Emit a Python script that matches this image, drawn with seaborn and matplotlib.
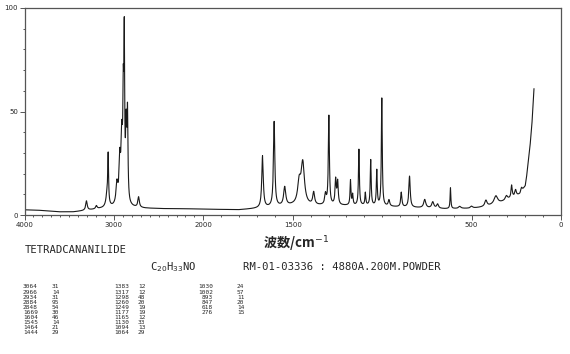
import numpy as np
import pandas as pd
import matplotlib
matplotlib.use("Agg")
import matplotlib.pyplot as plt
import seaborn as sns

# ---------------- data ----------------
# Peak table printed under the chart (wavenumber, relative intensity)
table_cm = [3064, 2966, 2934, 2884, 2848, 1669, 1604, 1545, 1464, 1444,
            1383, 1317, 1298, 1260, 1249, 1177, 1165, 1130, 1094, 1064,
            1030, 1002, 893, 847, 618, 276]
table_int = [31, 14, 31, 95, 54, 30, 46, 14, 21, 29,
             12, 12, 48, 20, 19, 19, 12, 33, 13, 29,
             24, 57, 11, 20, 14, 15]

# Band positions / amplitudes above baseline / widths (cm-1)
band_cm = [3307, 3196, 3075, 3064, 2966, 2934, 2912, 2895, 2884, 2863, 2848, 2724,
           1669, 1604, 1545, 1464, 1444, 1383, 1317, 1298, 1260, 1249,
           1177, 1165, 1130, 1094, 1064, 1030, 1002, 962, 893, 847,
           762, 717, 690, 618, 566, 500, 420, 364, 305, 276, 254, 221]
band_amp = [4.5, 1.5, 7, 22, 10, 20, 30, 45, 72, 35, 40, 5,
            25, 41, 9, 10, 20, 6, 5, 43, 12, 11,
            12, 5, 27, 6, 22, 17, 52, 3, 7, 15,
            4, 3, 2, 10, 1, 1, 3, 4, 2, 6, 3, 2]
band_wid = [20, 20, 30, 10, 25, 20, 20, 12, 10, 16, 12, 20,
            10, 9, 14, 20, 22, 12, 10, 7, 8, 8,
            6, 6, 6, 6, 6, 6, 6, 10, 8, 9,
            14, 14, 12, 5, 15, 15, 15, 25, 15, 8, 10, 10]

# Baseline level read between bands
base_cm = [151, 160, 170, 180, 190, 200, 230, 280, 350, 420, 500, 650, 800,
           950, 1100, 1350, 1500, 1720, 1800, 2000, 2200, 2400, 2650, 2800,
           3000, 3150, 3350, 3450, 3600, 3800, 4000]
base_val = [61, 47, 36, 28, 20, 14, 10, 8, 5.5, 4.0, 3.2, 3.0, 3.5,
            4.0, 4.5, 4.5, 4.5, 3.0, 2.5, 2.8, 3.0, 3.0, 3.2, 3.5,
            3.5, 3.0, 2.0, 1.5, 1.5, 2.2, 2.5]

x_major = [4000, 3000, 2000, 1500, 500, 0]
y_major = [0, 50, 100]

# ---------------- build the trace ----------------
wn = np.arange(151, 4001, 1.0)
inten = np.interp(wn, base_cm, base_val)
for c, a, w in zip(band_cm, band_amp, band_wid):
    inten = inten + a * (w / 2) ** 2 / ((wn - c) ** 2 + (w / 2) ** 2)
df = pd.DataFrame({"wn": wn, "I": inten})

# ---------------- figure ----------------
sns.set_style("white")
plt.rcParams["font.family"] = ["DejaVu Sans", "Noto Sans CJK JP"]

fig = plt.figure(figsize=(5.7, 3.54), dpi=100)
ax = fig.add_axes([24.5 / 570, 1 - 215 / 354, (561 - 24.5) / 570, (215 - 8) / 354])


def fwd(w):
    w = np.asarray(w, dtype=float)
    return np.where(w <= 2000, w, 2000 + (w - 2000) / 2)


def inv(u):
    u = np.asarray(u, dtype=float)
    return np.where(u <= 2000, u, 2000 + (u - 2000) * 2)


ax.set_xscale("function", functions=(fwd, inv))
sns.lineplot(data=df, x="wn", y="I", ax=ax, color="#1a1a1a", lw=0.8)
ax.set_xlim(4000, 0)
ax.set_ylim(0, 100)
ax.set_xlabel("")
ax.set_ylabel("")

ax.set_xticks(x_major)
ax.set_xticklabels([str(v) for v in x_major])
ax.set_xticks(np.arange(0, 4001, 100), minor=True)
ax.set_yticks(y_major)
ax.set_yticklabels([str(v) for v in y_major])
ax.set_yticks(np.arange(0, 101, 10), minor=True)
ax.tick_params(axis="both", which="major", length=3.5, width=0.7, color="#555555",
               labelsize=5, pad=1.2, direction="out", bottom=True, left=True)
ax.tick_params(axis="both", which="minor", length=1.6, width=0.7, color="#555555",
               direction="out", bottom=True, left=True)
for s in ax.spines.values():
    s.set_color("#555555")
    s.set_linewidth(0.9)

# ---------------- texts ----------------
W, H = 570.0, 354.0


def ft(x, y, s, **kw):
    fig.text(x / W, 1 - y / H, s, **kw)


ft(296, 242, "波数/cm$^{-1}$", ha="center", va="center", fontsize=9.5,
   family=["Noto Sans CJK JP", "DejaVu Sans"], weight="bold")
mono = "DejaVu Sans Mono"
ft(25, 250, "TETRADCANANILIDE", ha="left", va="center", fontsize=7.6, family=mono)
ft(150, 267, "C$_{20}$H$_{33}$NO", ha="left", va="center", fontsize=7.6, family=mono)
ft(243, 267, "RM-01-03336 : 4880A.200M.POWDER", ha="left", va="center",
   fontsize=7.6, family=mono)

row_y0, row_dy = 287.0, 5.11
cols = [(0, 10, 23, 52, "left"), (10, 20, 114, 138, "left"), (20, 26, 213, 237, "right")]
for start, stop, xc, xi, align in cols:
    for r, k in enumerate(range(start, stop)):
        y = row_y0 + r * row_dy
        ft(xc, y, str(table_cm[k]), ha=align, va="center", fontsize=4.4, family=mono)
        ft(xi, y, str(table_int[k]), ha="left", va="center", fontsize=4.4, family=mono)

fig.savefig("out.png", dpi=100)
